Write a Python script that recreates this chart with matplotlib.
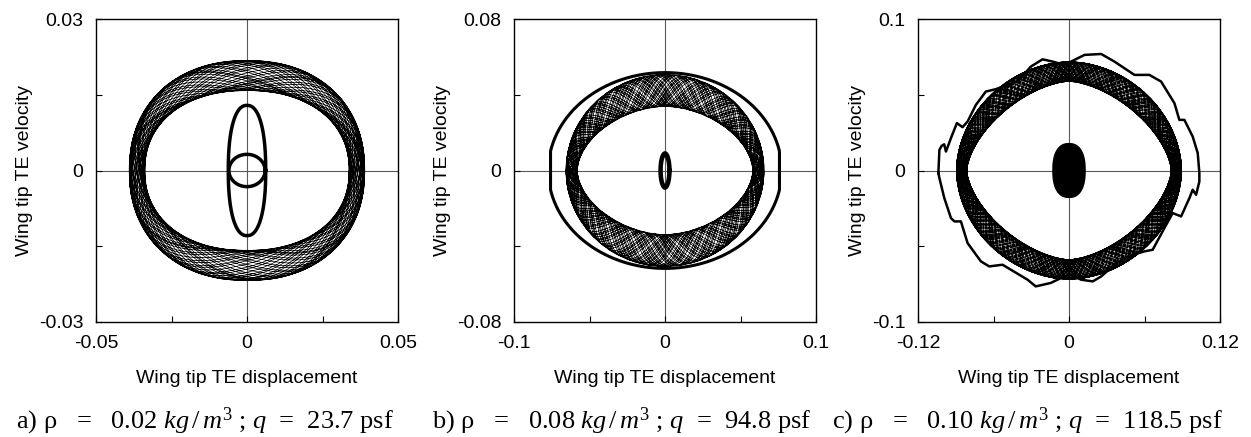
import numpy as np
import matplotlib
matplotlib.use('Agg')
import matplotlib.pyplot as plt

plt.rcParams['font.family'] = 'Liberation Sans'
plt.rcParams['mathtext.fontset'] = 'custom'
plt.rcParams['mathtext.rm'] = 'Liberation Serif'
plt.rcParams['mathtext.it'] = 'Liberation Serif:italic'

# axis ranges (displacement, velocity) for the three flight conditions
x_lims = [0.05, 0.1, 0.12]
y_lims = [0.03, 0.08, 0.1]
x_labels = [['-0.05', '0', '0.05'], ['-0.1', '0', '0.1'], ['-0.12', '0', '0.12']]
y_labels = [['-0.03', '0', '0.03'], ['-0.08', '0', '0.08'], ['-0.1', '0', '0.1']]
captions = [r'a) ρ   =   0.02 $kg\,/\,m^3$ ; $q$  =  23.7 psf',
            r'b) ρ   =   0.08 $kg\,/\,m^3$ ; $q$  =  94.8 psf',
            r'c) ρ   =   0.10 $kg\,/\,m^3$ ; $q$  =  118.5 psf']

# limit-cycle bands: semi-axes (disp, vel) of inner and outer edge
band_inner = [(0.0338, 0.0158), (0.058, 0.0338), (0.081, 0.0587)]
band_outer = [(0.039, 0.0218), (0.0656, 0.0507), (0.0896, 0.0719)]
inner_power = [2.2, 1.8, 1.6]
outer_power = [2.2, 2.0, 1.9]
band_turns = [36, 30, 44]
band_wave = [2.382, 7.382, 11.382]

# a) small tip orbits
a_tall = (0.0062, 0.0129)
a_small = (0.0060, 0.0032)
# b) outer transient orbit and centre orbit
b_outer = (0.0758, 0.0517)
b_centre = [(0.0033, 0.0093), (0.0026, 0.0082)]
# c) centre blob
c_centre = (0.0125, 0.0175)
# c) outer transient orbit
c_outer_x = [-0.1038, -0.1030, -0.1012, -0.0992, -0.0978, -0.0938, -0.0891, -0.0846,
             -0.0806, -0.0740, -0.0661, -0.0581, -0.0488, -0.0409, -0.0303, -0.0210,
             -0.0131, -0.0038, 0.0017, 0.0123, 0.0256, 0.0361, 0.0520, 0.0639,
             0.0732, 0.0838, 0.0877, 0.0917, 0.0983, 0.1023, 0.1036, 0.1036,
             0.1010, 0.0983, 0.0957, 0.0891, 0.0824, 0.0758, 0.0665, 0.0599,
             0.0467, 0.0361, 0.0256, 0.0189, 0.0097, 0.0017, -0.0038, -0.0144,
             -0.0264, -0.0329, -0.0528, -0.0634, -0.0700, -0.0806, -0.0859, -0.0911,
             -0.0938, -0.0991, -0.1030, -0.1038]
c_outer_y = [-0.0017, 0.0136, 0.0163, 0.0173, 0.0125, 0.0214, 0.0313, 0.0286,
             0.0323, 0.0433, 0.0521, 0.0537, 0.0565, 0.0587, 0.0686, 0.0734,
             0.0719, 0.0697, 0.0719, 0.0763, 0.0769, 0.0719, 0.0631, 0.0631,
             0.0587, 0.0444, 0.0334, 0.0334, 0.0224, 0.0115, -0.0017, -0.0073,
             -0.0160, -0.0127, -0.0182, -0.0303, -0.0281, -0.0380, -0.0523, -0.0534,
             -0.0567, -0.0622, -0.0699, -0.0732, -0.0721, -0.0688, -0.0699, -0.0742,
             -0.0765, -0.0721, -0.0622, -0.0633, -0.0600, -0.0479, -0.0336, -0.0336,
             -0.0314, -0.0182, -0.0050, -0.0017]


def superellipse(a, b, p, th):
    c, s = np.cos(th), np.sin(th)
    return a*np.sign(c)*np.abs(c)**(2/p), b*np.sign(s)*np.abs(s)**(2/p)


def draw_band(ax, inner, outer, p_in, p_out, turns, k, lw):
    th = np.linspace(0, 2*np.pi*turns, turns*900)
    xi, yi = superellipse(inner[0], inner[1], p_in, th)
    xo, yo = superellipse(outer[0], outer[1], p_out, th)
    s = 0.5 + 0.5*np.sin(k*th)
    ax.plot(xi + s*(xo - xi), yi + s*(yo - yi), color='k', lw=lw, zorder=3)


fig = plt.figure(figsize=(12.51, 4.37), dpi=100)
lefts = [96, 514, 918]
band_lw = [0.5, 0.5, 0.35]
axes = []
for i in range(3):
    ax = fig.add_axes([lefts[i]/1251, (437-322)/437, 302/1251, 303/437])
    xl, yl = x_lims[i], y_lims[i]
    ax.set_xlim(-xl, xl)
    ax.set_ylim(-yl, yl)
    ax.axhline(0, color='0.35', lw=0.8, zorder=1)
    ax.axvline(0, color='0.35', lw=0.8, zorder=1)
    ax.set_xticks(np.linspace(-xl, xl, 5))
    ax.set_yticks(np.linspace(-yl, yl, 5))
    ax.set_xticklabels([x_labels[i][0], '', x_labels[i][1], '', x_labels[i][2]])
    ax.set_yticklabels([y_labels[i][0], '', y_labels[i][1], '', y_labels[i][2]])
    ax.tick_params(direction='in', length=4, width=0.8, labelsize=14, pad=9)
    ax.set_xlabel('Wing tip TE displacement', fontsize=14, labelpad=13)
    ax.set_ylabel('Wing tip TE velocity', fontsize=14, labelpad=4)
    for sp in ax.spines.values():
        sp.set_linewidth(1.0)
    draw_band(ax, band_inner[i], band_outer[i], inner_power[i], outer_power[i],
              band_turns[i], band_wave[i], band_lw[i])
    axes.append(ax)

th = np.linspace(0, 2*np.pi, 400)

# a)
ax = axes[0]
x, y = superellipse(a_tall[0], a_tall[1], 2.3, th)
ax.plot(x, y, color='k', lw=2.5, zorder=4)
x, y = superellipse(a_small[0], a_small[1], 2.0, th)
ax.plot(x, y, color='k', lw=2.5, zorder=4)

# b)
ax = axes[1]
x, y = superellipse(b_outer[0], b_outer[1], 2.0, th)
ax.plot(np.clip(x*1.02, -b_outer[0], b_outer[0]), y, color='k', lw=2.2, zorder=4)
for a, b in b_centre:
    x, y = superellipse(a, b, 2.0, th)
    ax.plot(x, y, color='k', lw=2.5, zorder=4)

# c)
ax = axes[2]
ax.plot(c_outer_x, c_outer_y, color='k', lw=1.8, zorder=4)
x, y = superellipse(c_centre[0], c_centre[1], 2.4, th)
ax.fill(x, y, color='k', lw=1.5, zorder=4)

cap_x = [16, 432, 832]
for i in range(3):
    fig.text(cap_x[i]/1251, 1 - 421/437, captions[i], fontsize=19,
             family='Liberation Serif', va='center', ha='left')

fig.savefig('out.png', dpi=100)
